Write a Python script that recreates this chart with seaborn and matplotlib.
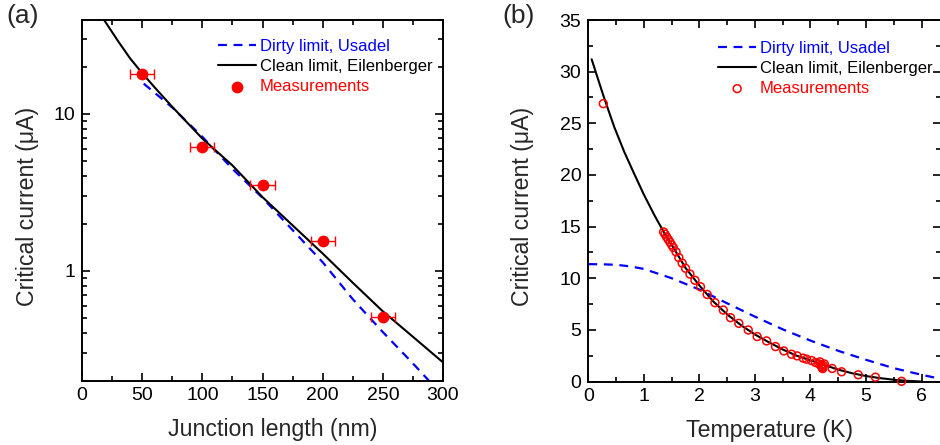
import matplotlib
matplotlib.use("Agg")
import matplotlib.pyplot as plt
import seaborn as sns
import numpy as np
import pandas as pd
from matplotlib.ticker import MultipleLocator, FixedLocator, FixedFormatter, LogLocator, NullFormatter

# ---------------- data: panel (a) ----------------
a_len_clean = [18, 30, 40, 50, 62, 75, 100, 125, 150, 175, 200, 225, 250, 275, 300]
a_ic_clean = [40.1, 29.1, 22.6, 18.2, 14.3, 11.1, 6.97, 4.70, 2.95, 1.95, 1.29, 0.84, 0.552, 0.38, 0.261]

a_len_dirty = [51.3, 75, 100, 125, 150, 175, 200, 225, 250, 275, 290]
a_ic_dirty = [15.6, 11.0, 7.15, 4.47, 2.92, 1.82, 1.135, 0.66, 0.407, 0.257, 0.193]

a_len_meas = [50, 100, 150, 200, 250]
a_ic_meas = [17.9, 6.14, 3.52, 1.54, 0.51]
a_len_err = [10, 10, 10, 10, 10]

# ---------------- data: panel (b) ----------------
b_t_clean = [0.06, 0.27, 0.47, 0.65, 0.81, 1.0, 1.2, 1.356, 1.5, 1.75, 2.0, 2.25, 2.5, 2.75, 3.0,
             3.25, 3.5, 3.75, 4.0, 4.25, 4.5, 4.75, 5.0, 5.25, 5.5, 5.75, 6.0]
b_ic_clean = [31.2, 27.7, 24.6, 22.2, 20.3, 18.1, 16.0, 14.5, 13.25, 11.0, 9.3, 7.75, 6.5, 5.45, 4.55,
              3.8, 3.1, 2.5, 2.05, 1.6, 1.15, 0.8, 0.53, 0.33, 0.17, 0.06, 0.0]

b_t_dirty = [0.0, 0.25, 0.5, 0.75, 1.0, 1.5, 2.0, 2.5, 3.0, 3.5, 4.0, 4.5, 5.0, 5.5, 6.0, 6.35]
b_ic_dirty = [11.36, 11.35, 11.3, 11.15, 10.9, 10.0, 8.9, 7.57, 6.28, 5.05, 3.96, 2.97, 2.1, 1.29, 0.65, 0.25]

b_t_meas = [0.27, 1.356, 1.38, 1.41, 1.44, 1.47, 1.50, 1.53, 1.58, 1.63, 1.69, 1.75, 1.83, 1.92,
            2.02, 2.14, 2.28, 2.43, 2.56, 2.71, 2.88, 3.04, 3.21, 3.37, 3.52, 3.66, 3.76, 3.87,
            3.93, 4.02, 4.09, 4.15, 4.17, 4.19, 4.20, 4.21, 4.22, 4.23, 4.25, 4.39, 4.56, 4.86,
            5.17, 5.64]
b_ic_meas = [26.9, 14.48, 14.27, 14.0, 13.75, 13.5, 13.23, 12.97, 12.55, 12.0, 11.46, 10.97, 10.4, 9.8,
             9.17, 8.43, 7.63, 6.92, 6.18, 5.63, 4.99, 4.35, 3.93, 3.38, 2.96, 2.64, 2.48, 2.26,
             2.16, 2.03, 1.84, 1.71, 1.9, 1.6, 1.45, 1.35, 1.25, 1.55, 1.7, 1.26, 0.94, 0.65,
             0.42, 0.02]

legend_labels = ["Dirty limit, Usadel", "Clean limit, Eilenberger", "Measurements"]

# ---------------- style ----------------
sns.set_style("ticks")
plt.rcParams["font.family"] = ["Liberation Sans", "DejaVu Sans"]
plt.rcParams["axes.linewidth"] = 1.4
plt.rcParams["mathtext.default"] = "regular"

BLUE = "#0000ff"
RED = "#ff0000"
BLACK = "#000000"
TICK_FS = 14
LABEL_FS = 16.7
LEG_FS = 12

fig = plt.figure(figsize=(9.4, 4.45), dpi=100)
W, H = 940.0, 445.0
axA = fig.add_axes([82 / W, 1 - 380.5 / H, 361 / W, 361 / H])
axB = fig.add_axes([588.3 / W, 1 - 381.5 / H, 352.7 / W, 361.5 / H])


def style_ticks(ax):
    ax.tick_params(which="both", direction="in", top=True, right=True, colors=BLACK,
                   labelsize=TICK_FS, width=1.2)
    ax.tick_params(which="major", length=5.5, pad=5)
    ax.tick_params(which="minor", length=3.5)
    for s in ax.spines.values():
        s.set_color(BLACK)
        s.set_linewidth(1.4)


# ---------------- panel (a) ----------------
dfA_dirty = pd.DataFrame({"L": a_len_dirty, "Ic": a_ic_dirty})
dfA_clean = pd.DataFrame({"L": a_len_clean, "Ic": a_ic_clean})
dfA_meas = pd.DataFrame({"L": a_len_meas, "Ic": a_ic_meas, "err": a_len_err})

axA.errorbar(dfA_meas["L"], dfA_meas["Ic"], xerr=dfA_meas["err"], fmt="none",
             ecolor=RED, elinewidth=1.0, capsize=3.5, capthick=1.0, zorder=3)
sns.lineplot(data=dfA_dirty, x="L", y="Ic", ax=axA, color=BLUE, lw=1.6,
             linestyle=(0, (4, 3)), label=legend_labels[0], zorder=2)
sns.lineplot(data=dfA_clean, x="L", y="Ic", ax=axA, color=BLACK, lw=1.5,
             label=legend_labels[1], zorder=2)
sns.scatterplot(data=dfA_meas, x="L", y="Ic", ax=axA, color=RED, edgecolor=RED,
                s=72, linewidth=0, label=legend_labels[2], zorder=4)

axA.set_yscale("log")
axA.set_xlim(0, 300)
axA.set_ylim(0.2, 40)
axA.xaxis.set_major_locator(MultipleLocator(50))
axA.xaxis.set_minor_locator(MultipleLocator(25))
axA.yaxis.set_major_locator(FixedLocator([1, 10]))
axA.yaxis.set_major_formatter(FixedFormatter(["1", "10"]))
axA.yaxis.set_minor_locator(LogLocator(base=10, subs=np.arange(2, 10) * 1.0))
axA.yaxis.set_minor_formatter(NullFormatter())
style_ticks(axA)
axA.set_xlabel("Junction length (nm)", fontsize=LABEL_FS)
axA.set_ylabel("Critical current (μA)", fontsize=LABEL_FS)
axA.xaxis.set_label_coords(0.528, -0.104)
axA.yaxis.set_label_coords(-0.12, 0.483)

hA, lA = axA.get_legend_handles_labels()
legA = axA.legend(hA, lA, loc="upper left", bbox_to_anchor=(218 / W, 1 - 39 / H),
                  bbox_transform=fig.transFigure, frameon=False, fontsize=LEG_FS,
                  handlelength=2.3, handletextpad=0.2, labelspacing=0.3,
                  borderpad=0, borderaxespad=0)
for t, c in zip(legA.get_texts(), [BLUE, BLACK, RED]):
    t.set_color(c)

# ---------------- panel (b) ----------------
dfB_dirty = pd.DataFrame({"T": b_t_dirty, "Ic": b_ic_dirty})
dfB_clean = pd.DataFrame({"T": b_t_clean, "Ic": b_ic_clean})
dfB_meas = pd.DataFrame({"T": b_t_meas, "Ic": b_ic_meas})

sns.lineplot(data=dfB_dirty, x="T", y="Ic", ax=axB, color=BLUE, lw=1.6,
             linestyle=(0, (4, 3)), label=legend_labels[0], zorder=2)
sns.lineplot(data=dfB_clean, x="T", y="Ic", ax=axB, color=BLACK, lw=1.5,
             label=legend_labels[1], zorder=2)
sns.scatterplot(data=dfB_meas, x="T", y="Ic", ax=axB, facecolor="none", edgecolor=RED,
                s=32, linewidth=1.1, label=legend_labels[2], zorder=4, clip_on=False)

axB.set_xlim(0, 6.35)
axB.set_ylim(0, 35)
axB.xaxis.set_major_locator(MultipleLocator(1))
axB.xaxis.set_minor_locator(MultipleLocator(0.5))
axB.yaxis.set_major_locator(MultipleLocator(5))
axB.yaxis.set_minor_locator(MultipleLocator(2.5))
style_ticks(axB)
axB.set_xlabel("Temperature (K)", fontsize=LABEL_FS)
axB.set_ylabel("Critical current (μA)", fontsize=LABEL_FS)
axB.xaxis.set_label_coords(0.515, -0.104)
axB.yaxis.set_label_coords(-0.154, 0.483)

hB, lB = axB.get_legend_handles_labels()
legB = axB.legend(hB, lB, loc="upper left", bbox_to_anchor=(718 / W, 1 - 41 / H),
                  bbox_transform=fig.transFigure, frameon=False, fontsize=LEG_FS,
                  handlelength=2.3, handletextpad=0.2, labelspacing=0.3,
                  borderpad=0, borderaxespad=0)
for t, c in zip(legB.get_texts(), [BLUE, BLACK, RED]):
    t.set_color(c)

fig.text(6 / W, 1 - 4 / H, "(a)", fontsize=19, va="top", ha="left")
fig.text(502 / W, 1 - 4 / H, "(b)", fontsize=19, va="top", ha="left")

fig.savefig("out.png", dpi=100)
